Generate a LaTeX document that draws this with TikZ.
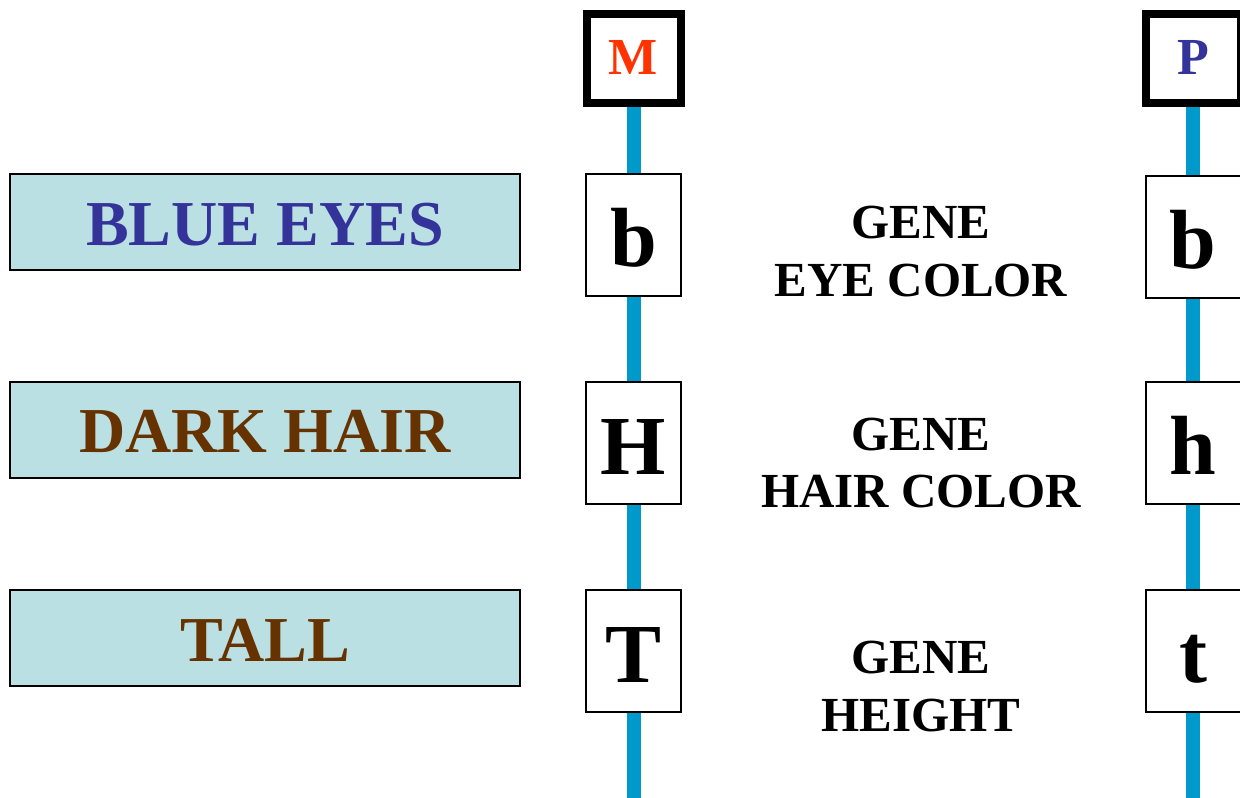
\documentclass[tikz,border=0pt]{standalone}
\usepackage{fontspec}
\setmainfont{Liberation Serif}
\definecolor{chromo}{HTML}{0099CC}
\definecolor{traitfill}{HTML}{BBE0E3}
\definecolor{mred}{HTML}{FF3300}
\definecolor{pblue}{HTML}{333399}
\definecolor{hbrown}{HTML}{663300}
\begin{document}
\begin{tikzpicture}[x=1pt,y=-1pt,
  trait/.style={draw=black,line width=2pt,fill=traitfill,minimum width=510pt,minimum height=96pt,
    inner sep=0pt,text height=46pt,text depth=0pt,font=\bfseries\fontsize{64}{64}\selectfont},
  allele/.style={draw=black,line width=2pt,fill=white,minimum width=95pt,minimum height=122pt,
    inner sep=0pt,text height=62pt,text depth=0pt,font=\bfseries\fontsize{84}{84}\selectfont},
  parent/.style={draw=black,line width=8pt,fill=white,minimum width=94pt,minimum height=89pt,
    inner sep=0pt,text height=31pt,text depth=0pt,font=\bfseries\fontsize{52}{52}\selectfont},
  genetxt/.style={anchor=base,inner sep=0pt,font=\bfseries\fontsize{49}{49}\selectfont},
  chrom/.style={draw=chromo,line width=14pt}
  ]
\useasboundingbox (0,0) rectangle (1240,798);
% trait boxes
\node[trait,text=pblue] (blue) at (265,222) {BLUE EYES};
\node[trait,text=hbrown] (dark) at (265,429.5) {DARK HAIR};
\node[trait,text=hbrown] (tall) at (265,638) {TALL};
% maternal chromosome
\node[parent,text=mred] (M) at (633.5,58.5) {M};
\node[allele] (Mb) at (633.5,235) {b};
\node[allele] (MH) at (633.5,443) {H};
\node[allele] (MT) at (633.5,651) {T};
\coordinate (Mend) at (633.5,798);
% paternal chromosome
\node[parent,text=pblue,minimum width=95pt] (P) at (1193,58.5) {P};
\node[allele] (Pb) at (1193,237) {b};
\node[allele] (Ph) at (1193,443) {h};
\node[allele] (Pt) at (1193,651) {t};
\coordinate (Pend) at (1193,798);
% chromosome segments
\draw[chrom] (M.south) -- (Mb.north);
\draw[chrom] (Mb.south) -- (MH.north);
\draw[chrom] (MH.south) -- (MT.north);
\draw[chrom] (MT.south) -- (Mend);
\draw[chrom] (P.south) -- (Pb.north);
\draw[chrom] (Pb.south) -- (Ph.north);
\draw[chrom] (Ph.south) -- (Pt.north);
\draw[chrom] (Pt.south) -- (Pend);
% gene labels
\node[genetxt] (g1a) at (921,238) {GENE};
\node[genetxt] (g1b) at (921,296) {EYE COLOR};
\node[genetxt] (g2a) at (921,450) {GENE};
\node[genetxt] (g2b) at (921,507) {HAIR COLOR};
\node[genetxt] (g3a) at (921,673) {GENE};
\node[genetxt] (g3b) at (921,731) {HEIGHT};
\end{tikzpicture}
\end{document}
